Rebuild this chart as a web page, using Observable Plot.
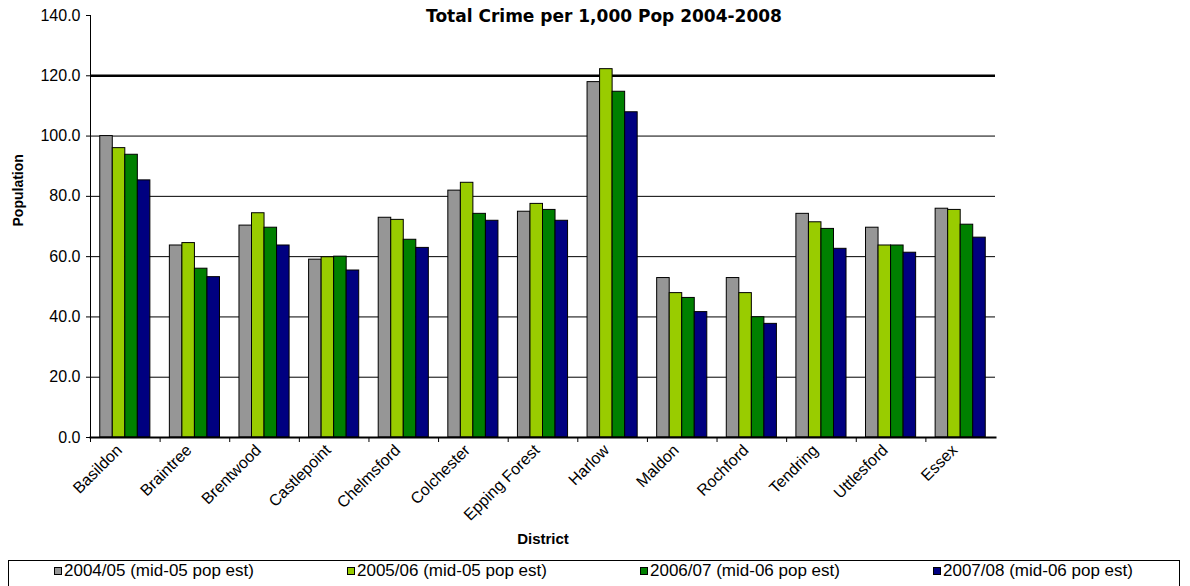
<!DOCTYPE html>
<html>
<head>
<meta charset="utf-8">
<script src="https://cdn.jsdelivr.net/npm/d3@7"></script>
<script src="https://cdn.jsdelivr.net/npm/@observablehq/plot@0.6"></script>
<style>
  html, body { margin: 0; padding: 0; background: #fff; }
  #wrap { position: relative; width: 1190px; height: 586px; overflow: hidden; font-family: "Liberation Sans", Arial, sans-serif; }
  #title { position: absolute; top: 6px; left: 0; width: 1208px; text-align: center; font-family: "DejaVu Sans", sans-serif; font-weight: bold; font-size: 17px; color: #000; }
  #legend { position: absolute; left: 8px; top: 560px; width: 1172px; height: 32px; border: 1px solid #000; box-sizing: border-box; font-family: "Liberation Sans", Arial, sans-serif; font-size: 17px; }
  .item { position: absolute; top: 0px; display: flex; align-items: center; white-space: nowrap; }
  .sw { width: 6px; height: 6px; border: 1px solid #000; margin-right: 2px; }
</style>
</head>
<body>
<div id="wrap">
  <div id="chart"></div>
  <div id="title">Total Crime per 1,000 Pop 2004-2008</div>
  <div id="legend"></div>
</div>
<script>
const districts = ["Basildon","Braintree","Brentwood","Castlepoint","Chelmsford","Colchester","Epping Forest","Harlow","Maldon","Rochford","Tendring","Uttlesford","Essex"];
const seriesNames = ["2004/05 (mid-05 pop est)","2005/06 (mid-05 pop est)","2006/07 (mid-06 pop est)","2007/08 (mid-06 pop est)"];
const seriesColors = ["#969696","#99cc00","#008000","#000080"];
const v200405 = [100.0, 63.7, 70.3, 59.0, 72.9, 81.9, 74.9, 117.9, 52.9, 52.9, 74.2, 69.6, 75.9];
const v200506 = [96.0, 64.5, 74.4, 59.8, 72.2, 84.5, 77.5, 122.2, 47.9, 47.9, 71.4, 63.7, 75.5];
const v200607 = [93.8, 56.0, 69.6, 60.0, 65.6, 74.2, 75.5, 114.7, 46.3, 39.9, 69.2, 63.7, 70.6];
const v200708 = [85.3, 53.2, 63.7, 55.4, 62.9, 71.9, 71.9, 107.9, 41.6, 37.7, 62.6, 61.3, 66.3];
const yTicks = [0, 20, 40, 60, 80, 100, 120, 140];
const gridTicks = [20, 40, 60, 80, 100, 120];

const allValues = [v200405, v200506, v200607, v200708];
const rows = districts.flatMap((d, i) => seriesNames.map((s, j) => ({district: d, series: s, value: allValues[j][i]})));

const W = 1190, mL = 90, mR = 195;
const step = (W - mL - mR) / districts.length;

// split each district band into one sub-band per series
function groupBars(index, scales, values, dimensions, context, next) {
  const g = next(index, scales, values, dimensions, context);
  const n = seriesNames.length;
  d3.select(g).selectAll("rect").each(function(i) {
    const r = d3.select(this);
    const x = +r.attr("x"), w = +r.attr("width");
    const j = seriesNames.indexOf(rows[i].series);
    r.attr("x", x + j * w / n).attr("width", w / n);
  });
  return g;
}

const chart = Plot.plot({
  width: W,
  height: 557,
  marginLeft: mL,
  marginRight: mR,
  marginTop: 15,
  marginBottom: 120,
  style: {fontFamily: "'Liberation Sans', Arial, sans-serif", fontSize: "16px", color: "#000", background: "#fff", overflow: "visible"},
  x: {domain: districts, paddingInner: 0.28, paddingOuter: 0.14, round: false},
  y: {domain: [0, 140]},
  color: {domain: seriesNames, range: seriesColors},
  marks: [
    Plot.ruleY(gridTicks, {y: d => d, stroke: "#000", strokeWidth: d => d === 120 ? 2.5 : 1}),
    Plot.barY(rows, {x: "district", y1: 0, y2: "value", fill: "series", stroke: "#000", strokeWidth: 1, render: groupBars}),
    Plot.axisY({ticks: yTicks, tickFormat: d3.format(".1f"), tickSize: 4, tickPadding: 6, label: null}),
    Plot.frame({anchor: "left", stroke: "#000"}),
    Plot.frame({anchor: "bottom", stroke: "#000", strokeWidth: 2}),
    Plot.axisX({tickRotate: -45, tickSize: 0, tickPadding: 10, dx: -6, label: null, fontSize: 16}),
    Plot.axisX({text: null, tickSize: 5, dx: -step / 2, label: null}),
    Plot.text(["Population"], {frameAnchor: "left", dx: -72, rotate: -90, fontWeight: "bold", fontSize: 14}),
    Plot.text(["District"], {frameAnchor: "bottom", dy: 106, fontWeight: "bold", fontSize: 15})
  ]
});
document.getElementById("chart").appendChild(chart);

const legend = document.getElementById("legend");
const lefts = [45, 338, 631, 924];
seriesNames.forEach((s, i) => {
  const it = document.createElement("div");
  it.className = "item";
  it.style.left = lefts[i] + "px";
  it.innerHTML = `<span class="sw" style="background:${seriesColors[i]}"></span><span>${s}</span>`;
  legend.appendChild(it);
});
</script>
</body>
</html>
